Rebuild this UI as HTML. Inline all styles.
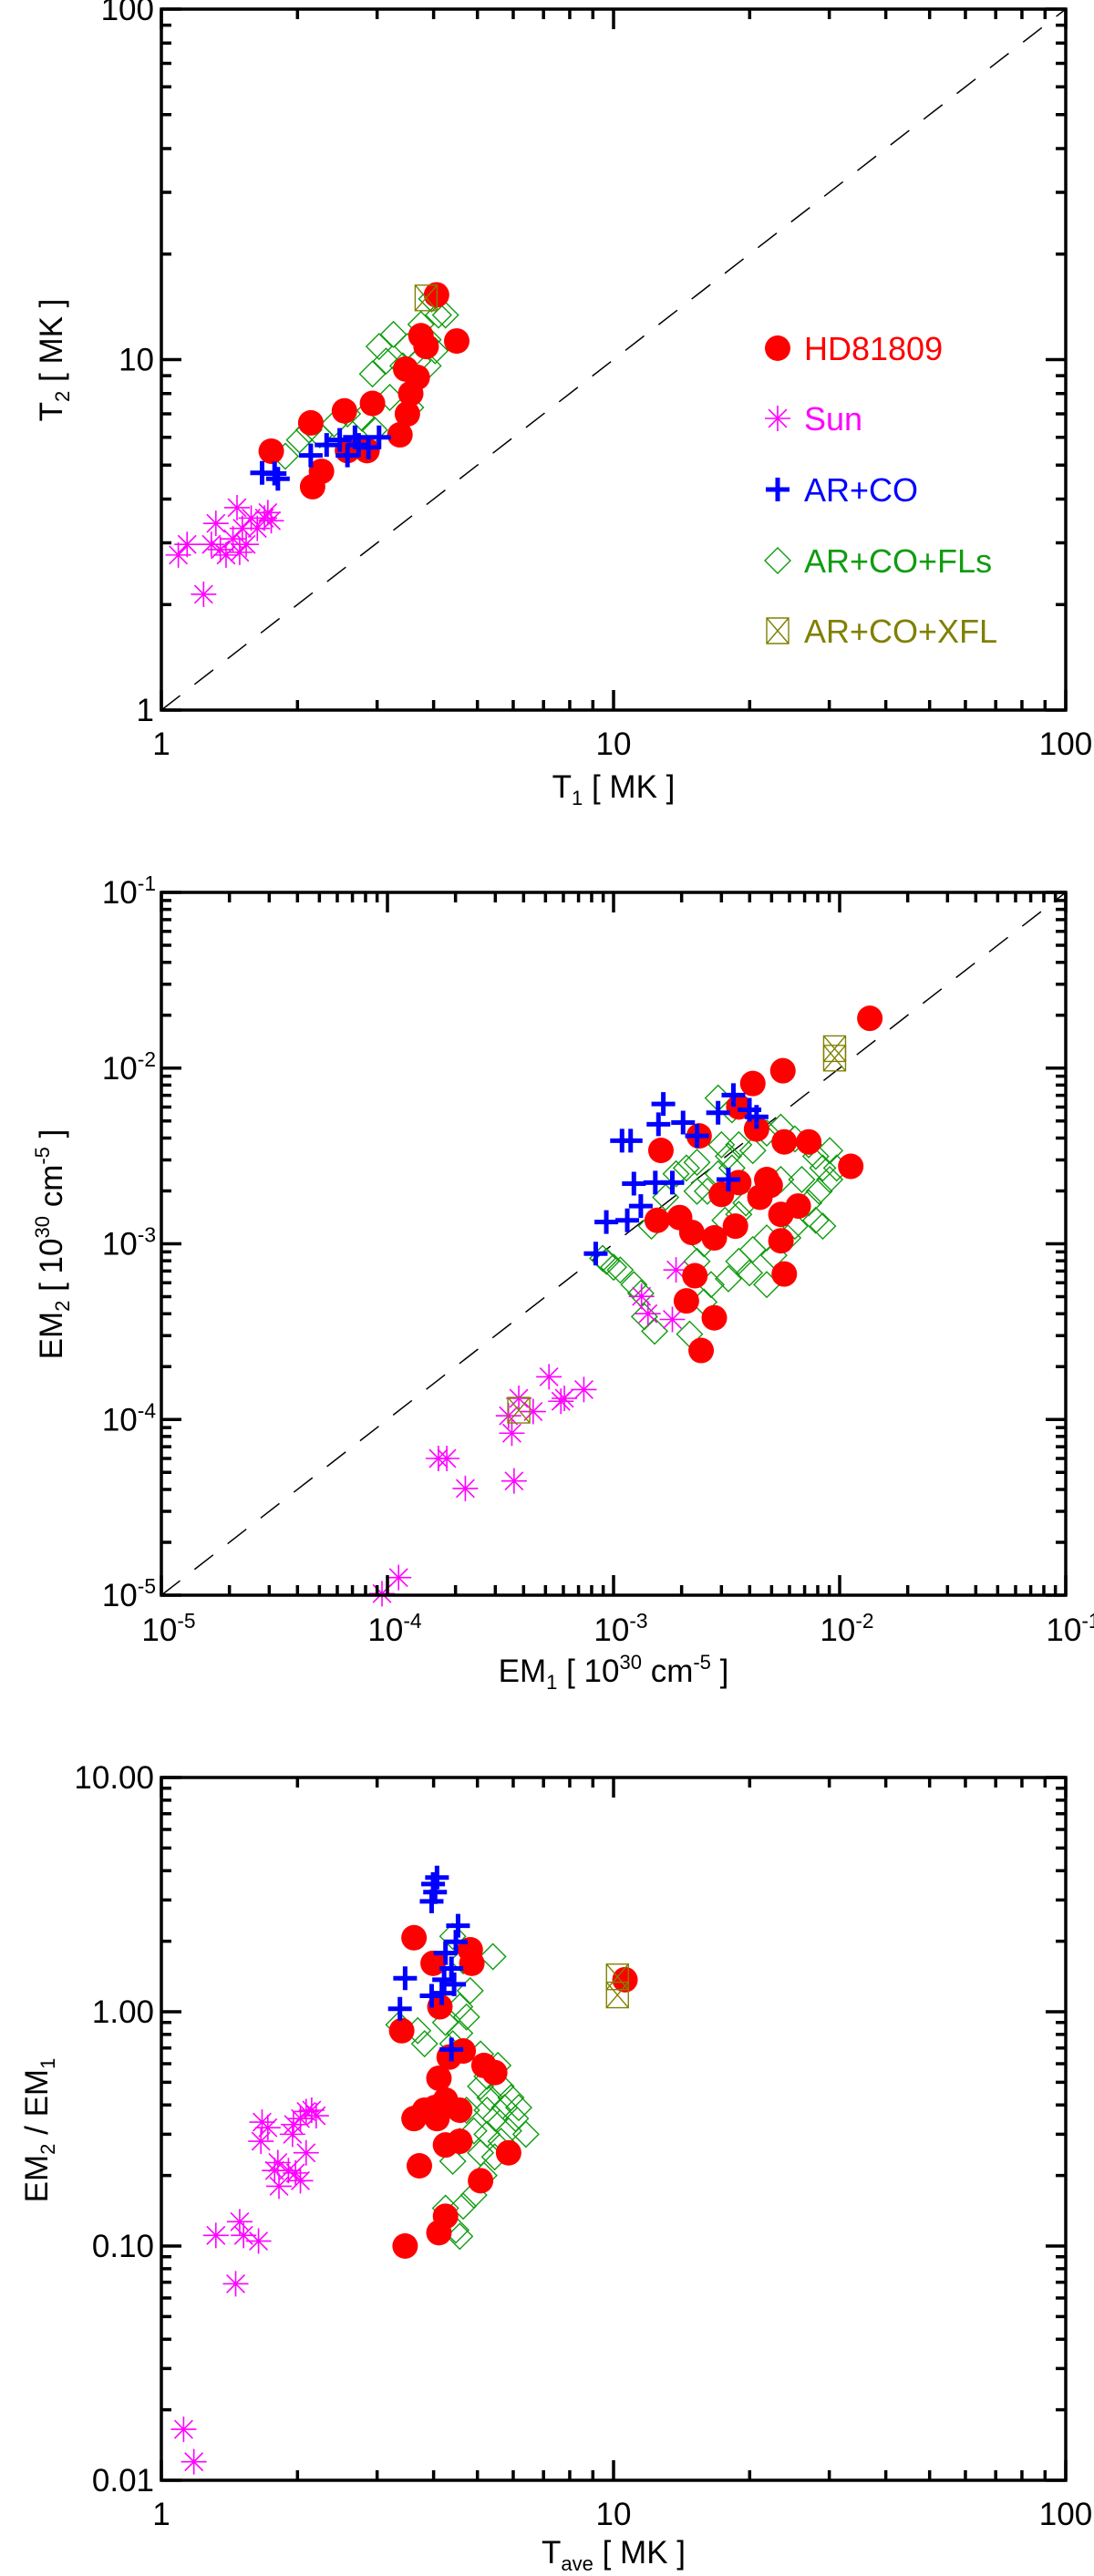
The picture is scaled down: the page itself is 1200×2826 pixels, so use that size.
<!DOCTYPE html>
<html><head><meta charset="utf-8"><style>
html,body{margin:0;padding:0;background:#fff;}
svg{display:block;font-family:"Liberation Sans",sans-serif;}
</style></head><body>
<svg id="fig" width="1200" height="2826" viewBox="0 0 1200 2826" xmlns="http://www.w3.org/2000/svg"></svg>
<script>
// ---------- Panel 1: T1 vs T2 ----------
const p1RedX=[1.75,2.16,2.26,2.14,2.54,2.58,2.85,2.93,3.37,3.5,3.56,3.68,3.75,3.85,4.06,4.5,3.47];
const p1RedY=[5.48,4.34,4.8,6.6,7.14,5.5,5.5,7.5,6.1,7.0,8.0,8.9,11.7,10.9,15.3,11.3,9.4];
const p1SunX=[1.09,1.14,1.24,1.32,1.35,1.39,1.44,1.47,1.51,1.54,1.58,1.63,1.69,1.72,1.75,1.49,1.29];
const p1SunY=[2.77,2.97,2.14,3.41,2.87,2.77,3.08,3.78,3.30,2.97,3.53,3.30,3.53,3.66,3.47,2.82,2.97];
const p1BlueX=[1.67,1.78,1.81,2.14,2.32,2.48,2.58,2.73,2.87,3.03,2.68];
const p1BlueY=[4.75,4.73,4.57,5.33,5.71,5.9,5.33,5.71,5.62,6.0,6.0];
const p1GreenX=[1.88,2.02,2.12,2.24,2.41,2.58,2.78,2.93,3.03,3.14,3.26,3.42,3.5,3.56,3.66,3.75,3.89,4.03,4.1,4.25,3.89,3.69,3.2,2.96,3.96];
const p1GreenY=[5.3,5.9,6.3,6.1,6.55,7.0,6.8,9.1,10.9,9.9,11.8,9.6,10.9,7.3,8.9,12.6,11.4,10.6,13.4,13.4,9.6,9.9,7.8,6.3,14.9];
const p1XflX=[3.85];
const p1XflY=[15.0];
const p1XTicks=["1","10","100"];
const p1YTicks=["1","10","100"];

// ---------- Panel 2: EM1 vs EM2 ----------
const p2RedX=[1.36e-2,5.61e-3,4.13e-3,4.29e-3,3.58e-3,2.39e-3,1.62e-3,1.12e-2,5.69e-3,7.30e-3,3.0e-3,3.58e-3,1.56e-3,1.96e-3,2.22e-3,2.79e-3,3.46e-3,4.44e-3,4.93e-3,5.50e-3,6.56e-3,4.76e-3,5.50e-3,5.69e-3,2.29e-3,2.10e-3,2.79e-3,2.44e-3];
const p2RedY=[1.92e-2,9.66e-3,8.17e-3,4.50e-3,6.01e-3,4.11e-3,3.40e-3,2.76e-3,3.80e-3,3.80e-3,1.91e-3,2.23e-3,1.36e-3,1.41e-3,1.16e-3,1.08e-3,1.26e-3,1.84e-3,2.15e-3,1.47e-3,1.64e-3,2.32e-3,1.04e-3,6.73e-4,6.58e-4,4.73e-4,3.79e-4,2.47e-4];
const p2SunX=[9.46e-5,1.12e-4,1.68e-4,1.83e-4,2.21e-4,3.63e-4,3.55e-4,3.43e-4,3.81e-4,4.41e-4,5.18e-4,5.85e-4,6.06e-4,7.39e-4,1.33e-3,1.42e-3,1.82e-3,1.89e-3];
const p2SunY=[1.02e-5,1.26e-5,6.0e-5,6.0e-5,4.05e-5,4.47e-5,8.36e-5,1.05e-4,1.32e-4,1.11e-4,1.75e-4,1.27e-4,1.32e-4,1.48e-4,5.02e-4,4.0e-4,3.71e-4,7.1e-4];
const p2BlueX=[8.34e-4,9.29e-4,1.15e-3,1.32e-3,1.23e-3,1.53e-3,1.82e-3,1.09e-3,1.19e-3,1.58e-3,1.66e-3,2.03e-3,2.34e-3,3.22e-3,2.90e-3,3.39e-3,3.99e-3,4.29e-3];
const p2BlueY=[8.79e-4,1.33e-3,1.36e-3,1.64e-3,2.20e-3,2.23e-3,2.23e-3,3.86e-3,3.86e-3,4.79e-3,6.25e-3,4.90e-3,4.11e-3,2.32e-3,5.57e-3,7.02e-3,5.79e-3,5.28e-3];
const p2GreenX=[8.95e-4,1.0e-3,9.3e-4,1.07e-3,1.23e-3,1.32e-3,1.47e-3,1.70e-3,1.89e-3,2.10e-3,2.34e-3,2.60e-3,2.90e-3,3.22e-3,3.58e-3,4.13e-3,4.76e-3,5.49e-3,6.34e-3,7.30e-3,7.84e-3,8.42e-3,9.04e-3,8.12e-3,9.04e-3,9.7e-3,6.80e-3,7.30e-3,7.84e-3,8.42e-3,6.34e-3,4.76e-3,4.13e-3,3.58e-3,3.22e-3,2.70e-3,2.34e-3,2.51e-3,3.11e-3,3.58e-3,3.85e-3,3.34e-3,3.0e-3,2.90e-3,3.34e-3,2.51e-3,2.17e-3,1.52e-3,1.37e-3,3.99e-3,4.76e-3,5.12e-3,5.90e-3,2.34e-3,5.49e-3];
const p2GreenY=[8.26e-4,7.36e-4,7.95e-4,7.09e-4,5.86e-4,5.22e-4,1.26e-3,1.84e-3,2.50e-3,2.70e-3,2.91e-3,1.99e-3,2.50e-3,3.15e-3,3.66e-3,3.39e-3,4.27e-3,4.61e-3,3.95e-3,3.66e-3,3.15e-3,2.70e-3,2.32e-3,1.99e-3,3.39e-3,2.70e-3,2.32e-3,1.71e-3,1.36e-3,1.26e-3,1.26e-3,1.08e-3,9.27e-4,7.95e-4,6.32e-4,5.86e-4,7.95e-4,1.0e-3,1.36e-3,1.47e-3,1.71e-3,2.70e-3,3.66e-3,6.75e-3,5.79e-3,4.66e-4,3.06e-4,3.18e-4,3.85e-4,6.83e-4,5.86e-4,8.6e-4,1.08e-3,1.99e-3,2.32e-3];
const p2XflX=[9.5e-3,9.5e-3,3.81e-4];
const p2XflY=[1.29e-2,1.14e-2,1.13e-4];
const p2XTickExp=["-5","-4","-3","-2","-1"];
const p2YTickExp=["-5","-4","-3","-2","-1"];

// ---------- Panel 3: Tave vs EM2/EM1 ----------
const p3RedX=[3.62,3.99,4.82,4.86,4.13,3.40,4.33,4.65,5.17,5.46,4.11,3.62,3.82,4.03,4.07,4.25,4.57,4.25,4.57,3.72,5.86,5.08,4.25,4.11,3.46,10.6];
const p3RedY=[2.07,1.61,1.84,1.61,1.05,0.83,0.64,0.68,0.59,0.55,0.52,0.35,0.38,0.39,0.35,0.42,0.38,0.27,0.28,0.22,0.25,0.19,0.134,0.114,0.10,1.37];
const p3SunX=[1.12,1.18,1.46,1.32,1.49,1.52,1.64,1.67,1.72,1.66,1.81,1.78,1.82,1.91,1.98,2.03,1.96,2.03,2.09,2.15,2.09,2.20,1.95];
const p3SunY=[0.0165,0.012,0.069,0.111,0.127,0.111,0.105,0.338,0.32,0.28,0.227,0.21,0.18,0.21,0.205,0.19,0.33,0.35,0.25,0.38,0.375,0.36,0.30];
const p3BlueX=[3.99,4.03,3.96,4.07,4.53,4.48,4.25,4.38,4.22,3.96,4.17,4.44,3.46,3.37,4.38];
const p3BlueY=[3.51,3.24,2.96,3.74,2.33,1.99,1.78,1.53,1.37,1.17,1.2,1.31,1.39,1.03,0.69];
const p3GreenX=[3.35,3.69,3.82,4.25,4.57,4.82,4.73,4.57,4.41,4.41,4.65,5.41,5.08,5.25,5.55,5.64,5.93,6.17,6.4,6.07,5.74,5.48,5.25,5.08,4.91,4.73,5.64,5.86,5.46,5.17,4.91,4.65,4.41,4.57,4.25,4.57,4.48,5.25,5.08,5.33];
const p3GreenY=[0.88,0.83,0.73,0.90,1.05,1.23,0.95,0.81,0.73,2.1,1.65,1.72,0.66,0.53,0.59,0.48,0.43,0.39,0.30,0.35,0.39,0.35,0.30,0.25,0.31,0.38,0.28,0.31,0.24,0.20,0.165,0.148,0.23,0.28,0.145,0.11,0.117,0.38,0.48,0.43];
const p3XflX=[10.2,10.2];
const p3XflY=[1.41,1.18];
const p3XTicks=["1","10","100"];
const p3YTicks=["0.01","0.10","1.00","10.00"];

const NS="http://www.w3.org/2000/svg";
const svg=document.getElementById('fig');
function mk(tag,attrs,parent){const e=document.createElementNS(NS,tag);for(const k in attrs)e.setAttribute(k,attrs[k]);(parent||svg).appendChild(e);return e;}
const L=177,R=1169;
const RED="#ff0000",MAG="#ff00ff",BLUE="#0000ff",GREEN="#109c10",OLIVE="#808000";

function makeAxes(lx0,lx1,ly0,ly1,top,bot){
  return {
    sx:v=>L+(Math.log10(v)-lx0)/(lx1-lx0)*(R-L),
    sy:v=>bot-(Math.log10(v)-ly0)/(ly1-ly0)*(bot-top),
    lx0,lx1,ly0,ly1,top,bot
  };
}
function drawMarker(g,type,x,y){
  let e;
  if(type==='circle'){e=mk('circle',{cx:x,cy:y,r:14,fill:RED},g);}
  else if(type==='star'){
    let d='';const r=14;
    for(let k=0;k<4;k++){const a=k*Math.PI/4;d+=`M${x-r*Math.cos(a)},${y-r*Math.sin(a)}L${x+r*Math.cos(a)},${y+r*Math.sin(a)}`;}
    e=mk('path',{d:d,stroke:MAG,'stroke-width':1.6,fill:'none'},g);
  } else if(type==='plus'){
    e=mk('path',{d:`M${x-13},${y}H${x+13}M${x},${y-13}V${y+13}`,stroke:BLUE,'stroke-width':5,fill:'none'},g);
  } else if(type==='diamond'){
    e=mk('path',{d:`M${x},${y-14}L${x+14},${y}L${x},${y+14}L${x-14},${y}Z`,stroke:GREEN,'stroke-width':1.4,fill:'none'},g);
  } else {
    e=mk('path',{d:`M${x-12},${y-14}H${x+12}V${y+14}H${x-12}ZM${x-12},${y-14}L${x+12},${y+14}M${x+12},${y-14}L${x-12},${y+14}`,stroke:OLIVE,'stroke-width':1.4,fill:'none'},g);
  }
  return e;
}
function series(ax,xs,ys,type,name,panel){
  const g=mk('g',{});
  
  
  for(let i=0;i<xs.length;i++){
    const m=drawMarker(g,type,ax.sx(xs[i]),ax.sy(ys[i]));
    
    
  }
}
function frame(ax,panel){
  const g=mk('g',{});
  
  
  mk('rect',{x:L,y:ax.top,width:R-L,height:ax.bot-ax.top,fill:'none',stroke:'#000','stroke-width':3.5},g);
  let d='';
  for(let e=ax.lx0;e<=ax.lx1;e++){
    for(let m=1;m<10;m++){
      if(e===ax.lx1&&m>1)break;
      const x=ax.sx(m*Math.pow(10,e));const len=m===1?22:11;
      d+=`M${x},${ax.bot}V${ax.bot-len}M${x},${ax.top}V${ax.top+len}`;
    }
  }
  for(let e=ax.ly0;e<=ax.ly1;e++){
    for(let m=1;m<10;m++){
      if(e===ax.ly1&&m>1)break;
      const y=ax.sy(m*Math.pow(10,e));const len=m===1?22:11;
      d+=`M${L},${y}H${L+len}M${R},${y}H${R-len}`;
    }
  }
  mk('path',{d:d,stroke:'#000','stroke-width':3.5,fill:'none'},g);
}
function diag(ax,panel,a,b){
  const l=mk('line',{x1:ax.sx(a),y1:ax.sy(a),x2:ax.sx(b),y2:ax.sy(b),stroke:'#000','stroke-width':1.5,'stroke-dasharray':'26 20'});
  
  
}
function txt(x,y,s,attrs,name){
  const t=mk('text',Object.assign({x:x,y:y,'font-size':35,fill:'#000'},attrs||{}));
  t.textContent=s;
  
  
  return t;
}
function supText(x,y,base,exp,anchor,name,fs){
  fs=fs||35;
  const t=mk('text',{x:x,y:y,'font-size':fs,'text-anchor':anchor});
  
  
  const a=mk('tspan',{},t);a.textContent=base;
  const b=mk('tspan',{dy:-14,'font-size':fs*0.65},t);b.textContent=exp;
  return t;
}

// Panel 1
const A1=makeAxes(0,2,0,2,10,779);
diag(A1,'panel1',1,100);
series(A1,p1GreenX,p1GreenY,'diamond','ar-co-fls','panel1');
series(A1,p1SunX,p1SunY,'star','sun','panel1');
series(A1,p1RedX,p1RedY,'circle','hd81809','panel1');
series(A1,p1BlueX,p1BlueY,'plus','ar-co','panel1');
series(A1,p1XflX,p1XflY,'box','ar-co-xfl','panel1');
frame(A1,'panel1');
p1XTicks.forEach((s,i)=>txt(A1.sx(Math.pow(10,i)),828,s,{'text-anchor':'middle'},'x-tick-label'));
p1YTicks.forEach((s,i)=>txt(L-8,A1.sy(Math.pow(10,i))+12,s,{'text-anchor':'end'},'y-tick-label'));
(function(){const t=mk('text',{x:673,y:875,'font-size':35,'text-anchor':'middle'});
 t.innerHTML='T<tspan font-size="22" dy="8">1</tspan><tspan dy="-8"> [ MK ]</tspan>';})();
(function(){const t=mk('text',{x:0,y:0,'font-size':35,'text-anchor':'middle',transform:'translate(68,395) rotate(-90)'});
 t.innerHTML='T<tspan font-size="22" dy="8">2</tspan><tspan dy="-8"> [ MK ]</tspan>';})();
// legend
const legNames=["HD81809","Sun","AR+CO","AR+CO+FLs","AR+CO+XFL"];
const legTypes=['circle','star','plus','diamond','box'];
const legCols=[RED,MAG,BLUE,GREEN,OLIVE];
const legY=[382,459,537,615,692];
const lg=mk('g',{});


legNames.forEach((n,i)=>{
  const m=drawMarker(lg,legTypes[i],853,legY[i]);
  
  
  const t=mk('text',{x:882,y:legY[i]+13,'font-size':36,fill:legCols[i]},lg);t.textContent=n;
  
  
});

// Panel 2
const A2=makeAxes(-5,-1,-5,-1,979,1750);
diag(A2,'panel2',1e-5,1e-1);
series(A2,p2GreenX,p2GreenY,'diamond','ar-co-fls','panel2');
series(A2,p2SunX,p2SunY,'star','sun','panel2');
series(A2,p2RedX,p2RedY,'circle','hd81809','panel2');
series(A2,p2BlueX,p2BlueY,'plus','ar-co','panel2');
series(A2,p2XflX,p2XflY,'box','ar-co-xfl','panel2');
frame(A2,'panel2');
p2XTickExp.forEach((s,i)=>supText(A2.sx(Math.pow(10,-5+i))+8,1800,'10',s,'middle','x-tick-label'));
p2YTickExp.forEach((s,i)=>supText(L-6,A2.sy(Math.pow(10,-5+i))+12,'10',s,'end','y-tick-label'));
(function(){const t=mk('text',{x:673,y:1845,'font-size':35,'text-anchor':'middle'});
 t.innerHTML='EM<tspan font-size="22" dy="8">1</tspan><tspan dy="-8"> [ 10</tspan><tspan font-size="22" dy="-14">30</tspan><tspan dy="14"> cm</tspan><tspan font-size="22" dy="-14">-5</tspan><tspan dy="14"> ]</tspan>';})();
(function(){const t=mk('text',{x:0,y:0,'font-size':35,'text-anchor':'middle',transform:'translate(68,1365) rotate(-90)'});
 t.innerHTML='EM<tspan font-size="22" dy="8">2</tspan><tspan dy="-8"> [ 10</tspan><tspan font-size="22" dy="-14">30</tspan><tspan dy="14"> cm</tspan><tspan font-size="22" dy="-14">-5</tspan><tspan dy="14"> ]</tspan>';})();

// Panel 3
const A3=makeAxes(0,2,-2,1,1950,2721);
series(A3,p3GreenX,p3GreenY,'diamond','ar-co-fls','panel3');
series(A3,p3SunX,p3SunY,'star','sun','panel3');
series(A3,p3RedX,p3RedY,'circle','hd81809','panel3');
series(A3,p3BlueX,p3BlueY,'plus','ar-co','panel3');
series(A3,p3XflX,p3XflY,'box','ar-co-xfl','panel3');
frame(A3,'panel3');
p3XTicks.forEach((s,i)=>txt(A3.sx(Math.pow(10,i)),2770,s,{'text-anchor':'middle'},'x-tick-label'));
p3YTicks.forEach((s,i)=>txt(L-8,A3.sy(Math.pow(10,i-2))+12,s,{'text-anchor':'end'},'y-tick-label'));
(function(){const t=mk('text',{x:673,y:2812,'font-size':35,'text-anchor':'middle'});
 t.innerHTML='T<tspan font-size="22" dy="8">ave</tspan><tspan dy="-8"> [ MK ]</tspan>';})();
(function(){const t=mk('text',{x:0,y:0,'font-size':35,'text-anchor':'middle',transform:'translate(52,2337) rotate(-90)'});
 t.innerHTML='EM<tspan font-size="22" dy="8">2</tspan><tspan dy="-8"> / EM</tspan><tspan font-size="22" dy="8">1</tspan>';})();
</script>
</body></html>
